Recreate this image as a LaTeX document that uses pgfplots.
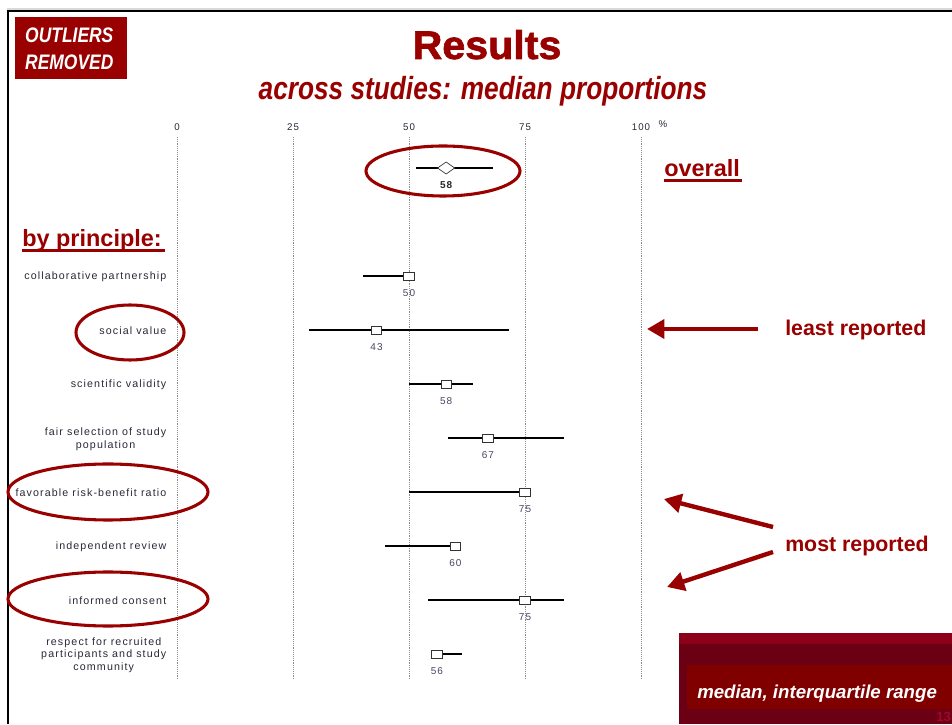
\documentclass[border=0pt]{standalone}
\usepackage{pgfplots}
\pgfplotsset{compat=1.18}
\usepackage{fontspec}
\setmainfont{Liberation Sans}
\newfontfamily\spaced{Liberation Sans}[LetterSpace=10.5]
\newfontfamily\heavy{Liberation Sans}[FakeBold=1.6]
\usetikzlibrary{arrows.meta}
\definecolor{dred}{RGB}{153,0,0}
\definecolor{valc}{RGB}{70,70,100}
\definecolor{labc}{RGB}{40,40,55}
\definecolor{boxA}{RGB}{107,0,20}
\definecolor{boxB}{RGB}{139,0,24}
\definecolor{boxC}{RGB}{128,0,0}
\begin{document}
\begin{tikzpicture}
\begin{axis}[
  scale only axis, width=348pt, height=407.25pt,
  xmin=0, xmax=100, ymin=137, ymax=680, y dir=reverse,
  axis line style={draw=none},
  major tick length=0pt,
  xtick={0,25,50,75,100},
  xticklabel pos=upper,
  xmajorgrids, grid style={densely dotted, black!45, line width=0.6pt},
  ytick={276,330,384,438,492,546,600,654},
  yticklabels={collaborative partnership, social value, scientific validity, {fair selection of study\\population}, favorable risk-benefit ratio, independent review, informed consent, {respect for recruited\\participants and study\\community}},
  yticklabel style={align=center, font=\spaced\fontsize{8.0}{9.3}\selectfont, text=labc, xshift=-4.5pt, yshift=-0.8pt},
  xticklabel style={font=\spaced\fontsize{7.3}{8}\selectfont, text=labc, yshift=1.5pt},
  /pgf/number format/assume math mode=true,
  clip=false,
]
\coordinate (P0) at (axis cs:-38.1466,0);
% overall
\addplot[only marks, mark=diamond*, mark size=4.5pt,
  mark options={fill=white, draw=black!80, xscale=1.9, line width=0.5pt},
  point meta=x, nodes near coords,
  nodes near coords style={anchor=north, yshift=-6.3pt, font=\bfseries\spaced\fontsize{7.5}{8}\selectfont, text=black!85},
  error bars/.cd, x dir=both, x explicit, error mark=none,
  error bar style={line width=0.9pt, black}]
  coordinates {(58,168) += (10.1,0) -= (6.5,0)};
% by principle
\addplot[only marks, mark=square*, mark size=3pt,
  mark options={fill=white, draw=black!80, xscale=1.3, line width=0.6pt},
  point meta=x, nodes near coords,
  nodes near coords style={anchor=north, yshift=-6.3pt, font=\spaced\fontsize{7.5}{8}\selectfont, text=valc},
  error bars/.cd, x dir=both, x explicit, error mark=none,
  error bar style={line width=0.9pt, black}]
  coordinates {
  (50,276) += (0,0) -= (9.9,0)
  (43,330) += (28.6,0) -= (14.6,0)
  (58,384) += (5.8,0) -= (8,0)
  (67,438) += (16.4,0) -= (8.6,0)
  (75,492) += (0,0) -= (25,0)
  (60,546) += (0,0) -= (15.2,0)
  (75,600) += (8.4,0) -= (20.9,0)
  (56,654) += (5.4,0) -= (0,0)
  };
\end{axis}
\begin{scope}[shift={(P0)}, x=0.75pt, y=-0.75pt]
  % slide border
  \fill[black!15] (7,8.5) rectangle (952,10);
  \fill[black] (7,10) rectangle (952,12.5);
  \fill[black] (7,10) rectangle (9.5,724);
  % outliers box
  \fill[dred] (15,17) rectangle (127,79);
  \node[anchor=base west, text=white, font=\bfseries\itshape\fontsize{15.75}{18}\selectfont, xscale=0.83, inner sep=0] at (25,43) {OUTLIERS};
  \node[anchor=base west, text=white, font=\bfseries\itshape\fontsize{15.75}{18}\selectfont, xscale=0.83, inner sep=0] at (25,70) {REMOVED};
  % titles
  \node[anchor=base, text=dred, font=\heavy\bfseries\fontsize{30}{36}\selectfont, xscale=1.03, inner sep=0] at (487,59) {Results};
  \node[anchor=base, text=dred, font=\bfseries\itshape\fontsize{24}{28}\selectfont, xscale=0.82, inner sep=0] at (483,100) {across studies: median proportions};
  \node[font=\spaced\fontsize{7.3}{8}\selectfont, text=labc, inner sep=0] at (663,124) {\%};
  % headings
  \node[anchor=base west, text=dred, font=\bfseries\fontsize{17.6}{20}\selectfont, inner sep=0] at (664,177) {overall};
  \fill[dred] (664,179.5) rectangle (742,182);
  \node[anchor=base west, text=dred, font=\bfseries\fontsize{17.6}{20}\selectfont, inner sep=0] at (22,247) {by principle:};
  \fill[dred] (22,249.5) rectangle (165,252);
  % annotations
  \node[anchor=base west, text=dred, font=\bfseries\fontsize{16}{19}\selectfont, inner sep=0] at (785,336) {least reported};
  \node[anchor=base west, text=dred, font=\bfseries\fontsize{16}{19}\selectfont, inner sep=0] at (785,552) {most reported};
  \draw[dred, line width=3.3pt, -{Triangle[length=13pt,width=14pt]}] (758,329) -- (647,329);
  \draw[dred, line width=3.3pt, -{Triangle[length=13pt,width=14pt]}] (773,527) -- (664,499);
  \draw[dred, line width=3.3pt, -{Triangle[length=13pt,width=14pt]}] (773,552) -- (667,587);
  % ellipses
  \draw[dred, line width=2.3pt] (443,171) ellipse [x radius=77, y radius=25];
  \draw[dred, line width=2.3pt] (130,332.5) ellipse [x radius=54, y radius=27.5];
  \draw[dred, line width=2.3pt] (108,492) ellipse [x radius=100, y radius=28];
  \draw[dred, line width=2.3pt] (108,599) ellipse [x radius=100, y radius=27];
  % bottom-right box
  \fill[boxA] (679,633) rectangle (952,724);
  \fill[boxB] (679,633) rectangle (952,644);
  \fill[boxC] (687,665) rectangle (952,709);
  \node[anchor=base west, text=white, font=\bfseries\itshape\fontsize{14}{16}\selectfont, inner sep=0] at (697,698) {median, interquartile range};
  \node[anchor=base west, text={rgb,255:red,160;green,10;blue,40}, font=\bfseries\fontsize{10}{12}\selectfont, inner sep=0] at (936,721) {13};
  \pgfresetboundingbox
  \path[use as bounding box] (0,0) rectangle (952,724);
\end{scope}
\end{tikzpicture}
\end{document}
